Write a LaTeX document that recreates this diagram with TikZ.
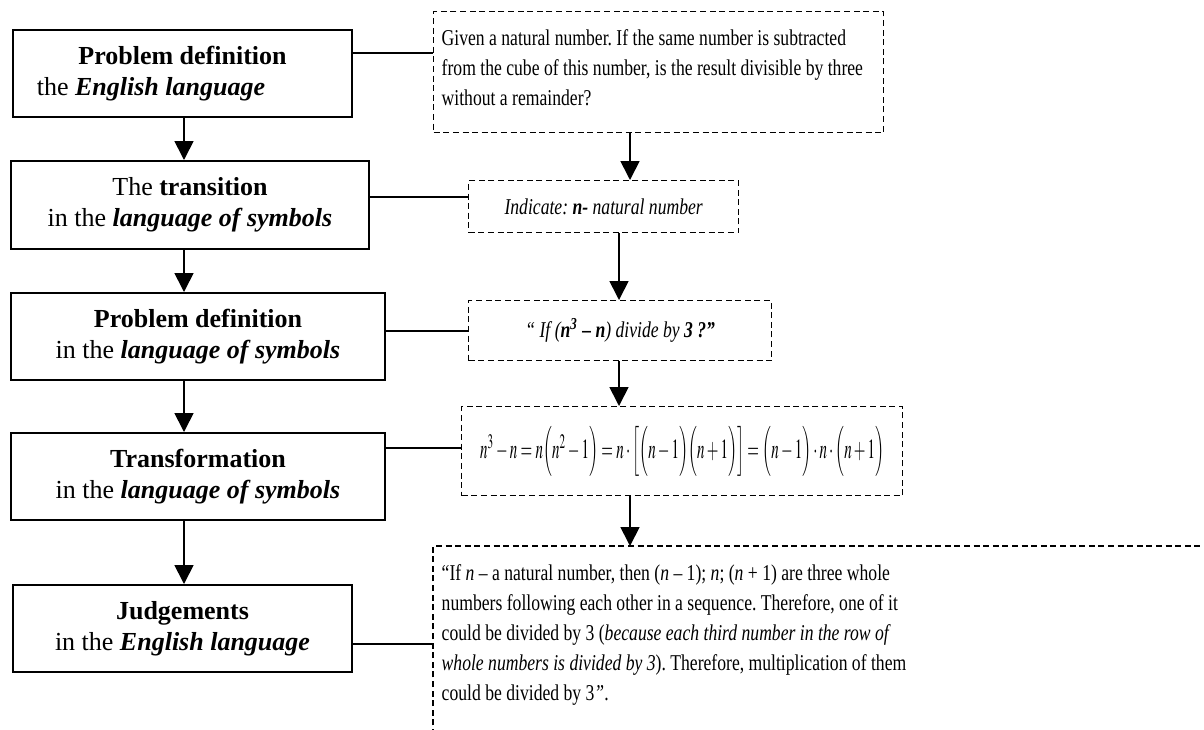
\documentclass[tikz,border=0pt]{standalone}
\usepackage{mathptmx}
\usepackage{fontspec}
\setmainfont{Liberation Serif}
\newfontfamily\narrowserif[FakeStretch=0.78]{Liberation Serif}
\usepackage{graphicx}
\usetikzlibrary{arrows.meta,positioning}

\begin{document}
\begin{tikzpicture}[x=0.5pt, y=-0.5pt,
  stage/.style={draw, line width=1pt, inner sep=0pt, align=center,
    minimum height=43.5pt, font=\fontsize{13}{15.5}\selectfont, anchor=north west},
  note/.style={draw, dash pattern=on 3pt off 1.8pt, line width=0.7pt, inner sep=0pt,
    font=\narrowserif\fontsize{11.3}{15}\selectfont\frenchspacing, anchor=north west},
  rim/.style={dash pattern=on 3pt off 1.8pt, line width=0.7pt},
  arr/.style={-{Triangle[length=9.5pt,width=9.5pt]}, line width=0.85pt},
  link/.style={line width=0.85pt}]
\useasboundingbox (0,0) rectangle (1204,729);
\clip (0,0) rectangle (1204,729);
\node[stage, minimum width=169.5pt] (engdef) at (12,29)
  {\textbf{Problem definition}\\\hspace*{-31.5pt}the \textbf{\textit{English language}}};
\node[stage, minimum width=179pt, minimum height=44pt] (trans) at (10,160)
  {The \textbf{transition}\\in the \textbf{\textit{language of symbols}}};
\node[stage, minimum width=187pt] (symdef) at (10,292)
  {\textbf{Problem definition}\\in the \textbf{\textit{language of symbols}}};
\node[stage, minimum width=187pt] (transf) at (10,432)
  {\textbf{Transformation}\\in the \textbf{\textit{language of symbols}}};
\node[stage, minimum width=169.5pt] (judge) at (12,584)
  {\textbf{Judgements}\\in the \textbf{\textit{English language}}};
\node[note, minimum width=225pt, text width=217pt, text height=17pt, text depth=43.5pt, align=flush left] (given) at (433,11)
  {Given a natural number. If the same number is subtracted\\
   from the cube of this number, is the result divisible by three\\
   without a remainder?};
\node[note, minimum width=135pt, minimum height=26pt] (indicate) at (468,180)
  {\textit{Indicate: \textbf{n-} natural number}};
\node[note, minimum width=151.5pt, minimum height=30pt] (question) at (468,300)
  {\textit{“ If (\textbf{n\textsuperscript{3} – n}) divide by \textbf{3 ?”}}};
\node[note, minimum width=220.5pt, minimum height=44.5pt] (identity) at (461,406)
  {\resizebox*{202pt}{25pt}{$n^{3}-n=n\Bigl(n^{2}-1\Bigr)=n\cdot\Bigl[\Bigl(n-1\Bigr)\Bigl(n+1\Bigr)\Bigr]=\Bigl(n-1\Bigr)\cdot n\cdot\Bigl(n+1\Bigr)$}};
\node[note, draw=none, text width=380pt, align=flush left, inner xsep=4pt, inner ysep=9pt] (reason) at (433,546)
  {“If \textit{n} – a natural number, then (\textit{n} – 1); \textit{n}; (\textit{n} + 1) are three whole\\
   numbers following each other in a sequence. Therefore, one of it\\
   could be divided by 3 (\textit{because each third number in the row of}\\
   \textit{whole numbers is divided by 3}). Therefore, multiplication of them\\
   could be divided by 3\textit{”}.};
\coordinate (corner) at (1210,735);
\draw[rim] (reason.north west |- corner) -- (reason.north west) -- (reason.north west -| corner);
\coordinate (lspine) at (184,0);
\coordinate (rspine) at (630,0);
\coordinate (mspine) at (619,0);
\foreach \a/\b in {engdef/trans, trans/symdef, symdef/transf, transf/judge}
  \draw[arr] (\a.south -| lspine) -- (\b.north -| lspine);
\draw[arr] (given.south -| rspine) -- (indicate.north -| rspine);
\draw[arr] (indicate.south -| mspine) -- (question.north -| mspine);
\draw[arr] (question.south -| mspine) -- (identity.north -| mspine);
\draw[arr] (identity.south -| rspine) -- (reason.north -| rspine);
\foreach \src/\dst/\y in {engdef/given/53, trans/indicate/197, symdef/question/331,
    transf/identity/448, judge/reason/644}
  \draw[link] (\src.east |- 0,\y) -- (\dst.west |- 0,\y);
\end{tikzpicture}
\end{document}
